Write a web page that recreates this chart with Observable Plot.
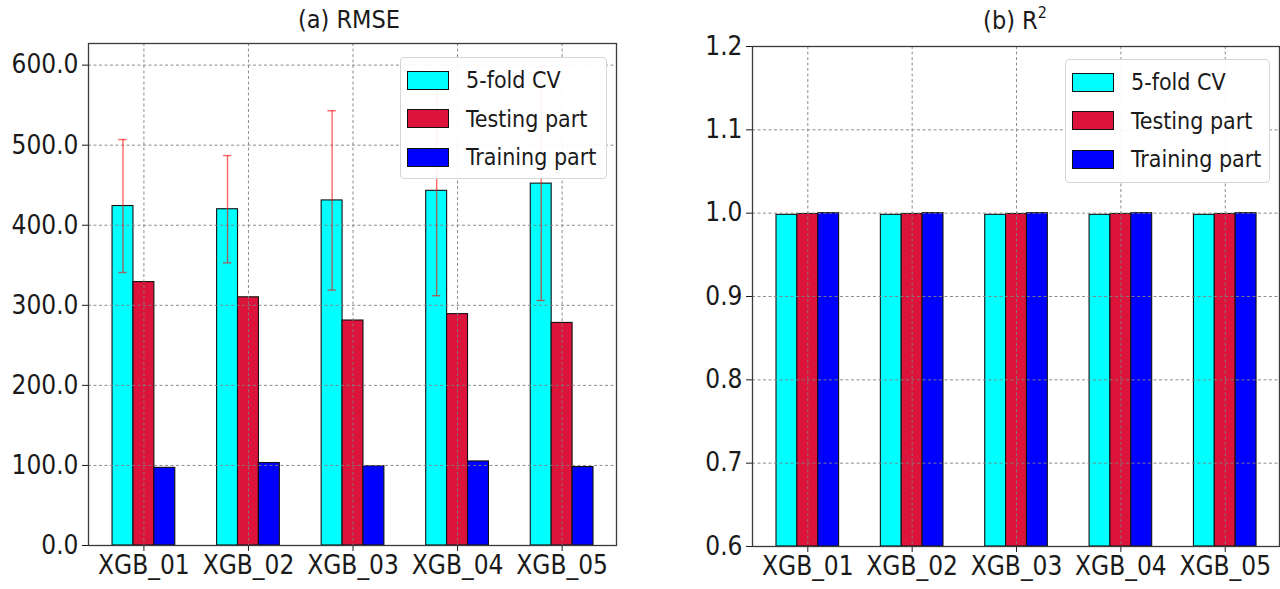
<!DOCTYPE html>
<html>
<head>
<meta charset="utf-8">
<script src="https://cdn.jsdelivr.net/npm/d3@7"></script>
<script src="https://cdn.jsdelivr.net/npm/@observablehq/plot@0.6"></script>
<style>
  html, body { margin: 0; padding: 0; background: #fff; }
  body { width: 1280px; height: 589px; overflow: hidden; position: relative;
         font-family: "DejaVu Sans Condensed", "DejaVu Sans", sans-serif; color: #1a1a1a; }
  .panel { position: absolute; top: 0; }
  .title { position: absolute; top: 5px; font-size: 25px; transform: translateX(-50%); white-space: nowrap; }
  .title sup { font-size: 16px; position: relative; top: -2px; }
  .legend { position: absolute; background: rgba(255,255,255,0.92); border: 1px solid #d6d6d6;
            border-radius: 4px; box-sizing: border-box; }
  .item { position: absolute; left: 6px; height: 20px; display: flex; align-items: center; white-space: nowrap; }
  .sw { width: 42px; height: 19px; border: 1.4px solid #111; box-sizing: border-box; margin-right: 17px; flex: none; }
  .lbl { font-size: 23px; line-height: 20px; }
</style>
</head>
<body>
<div id="root"></div>
<script>
// Models compared in both panels
const models = ["XGB_01", "XGB_02", "XGB_03", "XGB_04", "XGB_05"];
const series = ["5-fold CV", "Testing part", "Training part"];
const colors = ["#00ffff", "#dc143c", "#0000ff"];

// (a) RMSE
const rmseCV = [424, 420, 431, 443, 452];
const rmseCVErr = [83, 67, 112, 131, 146];
const rmseTest = [329, 310, 281, 289, 278];
const rmseTrain = [97, 103, 99, 105, 98];
const rmseTicks = [0, 100, 200, 300, 400, 500, 600];

// (b) R²
const r2CV = [0.998, 0.998, 0.998, 0.998, 0.998];
const r2Test = [0.999, 0.999, 0.999, 0.999, 0.999];
const r2Train = [1.0, 1.0, 1.0, 1.0, 1.0];
const r2Ticks = [0.6, 0.7, 0.8, 0.9, 1.0, 1.1, 1.2];

const barWidth = 0.2;
const capHalf = 0.04;

function toRows(cols) {
  const rows = [];
  models.forEach((m, i) => {
    cols.forEach((vals, s) => {
      rows.push({model: m, i, series: series[s], pos: i + (s - 1) * barWidth, value: vals[i]});
    });
  });
  return rows;
}

function panel({cols, err, yDomain, yTicks, margins}) {
  const rows = toRows(cols);
  const errRows = err ? models.map((m, i) => ({
    pos: i - barWidth, lo: cols[0][i] - err[i], hi: cols[0][i] + err[i]
  })) : [];
  const capRows = errRows.flatMap(d => [{pos: d.pos, y: d.lo}, {pos: d.pos, y: d.hi}]);
  const grid = {stroke: "#808080", strokeOpacity: 0.9, strokeWidth: 1, strokeDasharray: "3,2.5"};
  return Plot.plot({
    width: 640,
    height: 589,
    ...margins,
    style: {fontFamily: '"DejaVu Sans Condensed", "DejaVu Sans", sans-serif', fontSize: "26px", color: "#1a1a1a", background: "transparent", overflow: "visible"},
    x: {domain: [-0.53, 4.52], ticks: d3.range(models.length), tickFormat: i => models[i], tickSize: 6, tickPadding: 4, label: null},
    y: {domain: yDomain, ticks: yTicks, tickFormat: d3.format(".1f"), tickSize: 6, tickPadding: 4, label: null},
    color: {domain: series, range: colors},
    marks: [
      Plot.rect(rows, {
        x1: d => d.pos - barWidth / 2, x2: d => d.pos + barWidth / 2,
        y1: yDomain[0], y2: "value",
        fill: "series", stroke: "#111", strokeWidth: 1.1
      }),
      Plot.gridX(d3.range(models.length), {x: d => d, ...grid}),
      Plot.gridY(yTicks, {y: d => d, ...grid}),
      Plot.ruleX(errRows, {x: "pos", y1: "lo", y2: "hi", stroke: "red", strokeOpacity: 0.6, strokeWidth: 1.4}),
      Plot.ruleY(capRows, {y: "y", x1: d => d.pos - capHalf, x2: d => d.pos + capHalf, stroke: "red", strokeOpacity: 0.6, strokeWidth: 1.4}),
      Plot.frame({stroke: "#3a3a3a", strokeWidth: 1.3})
    ]
  });
}

function legend(left, top, width, height) {
  const box = document.createElement("div");
  box.className = "legend";
  Object.assign(box.style, {left: left + "px", top: top + "px", width: width + "px", height: height + "px"});
  series.forEach((s, k) => {
    const it = document.createElement("div");
    it.className = "item";
    it.style.top = (12 + k * 38.7) + "px";
    const sw = document.createElement("div");
    sw.className = "sw";
    sw.style.background = colors[k];
    const lb = document.createElement("span");
    lb.className = "lbl";
    lb.textContent = s;
    it.append(sw, lb);
    box.append(it);
  });
  return box;
}

const root = document.getElementById("root");

const left = panel({
  cols: [rmseCV, rmseTest, rmseTrain], err: rmseCVErr,
  yDomain: [0, 627], yTicks: rmseTicks,
  margins: {marginLeft: 88, marginRight: 24, marginTop: 43, marginBottom: 44}
});
left.classList.add("panel");
left.style.left = "0px";
root.append(left);

const right = panel({
  cols: [r2CV, r2Test, r2Train], err: null,
  yDomain: [0.6, 1.2], yTicks: r2Ticks,
  margins: {marginLeft: 112, marginRight: 1, marginTop: 46, marginBottom: 43}
});
right.classList.add("panel");
right.style.left = "640px";
root.append(right);

const t1 = document.createElement("div");
t1.className = "title";
t1.style.left = "349px";
t1.textContent = "(a) RMSE";
root.append(t1);

const t2 = document.createElement("div");
t2.className = "title";
t2.style.left = "1015px";
t2.innerHTML = "(b) R<sup>2</sup>";
root.append(t2);

root.append(legend(400, 57, 207, 122));
root.append(legend(1065, 59, 205, 124));
</script>
</body>
</html>
